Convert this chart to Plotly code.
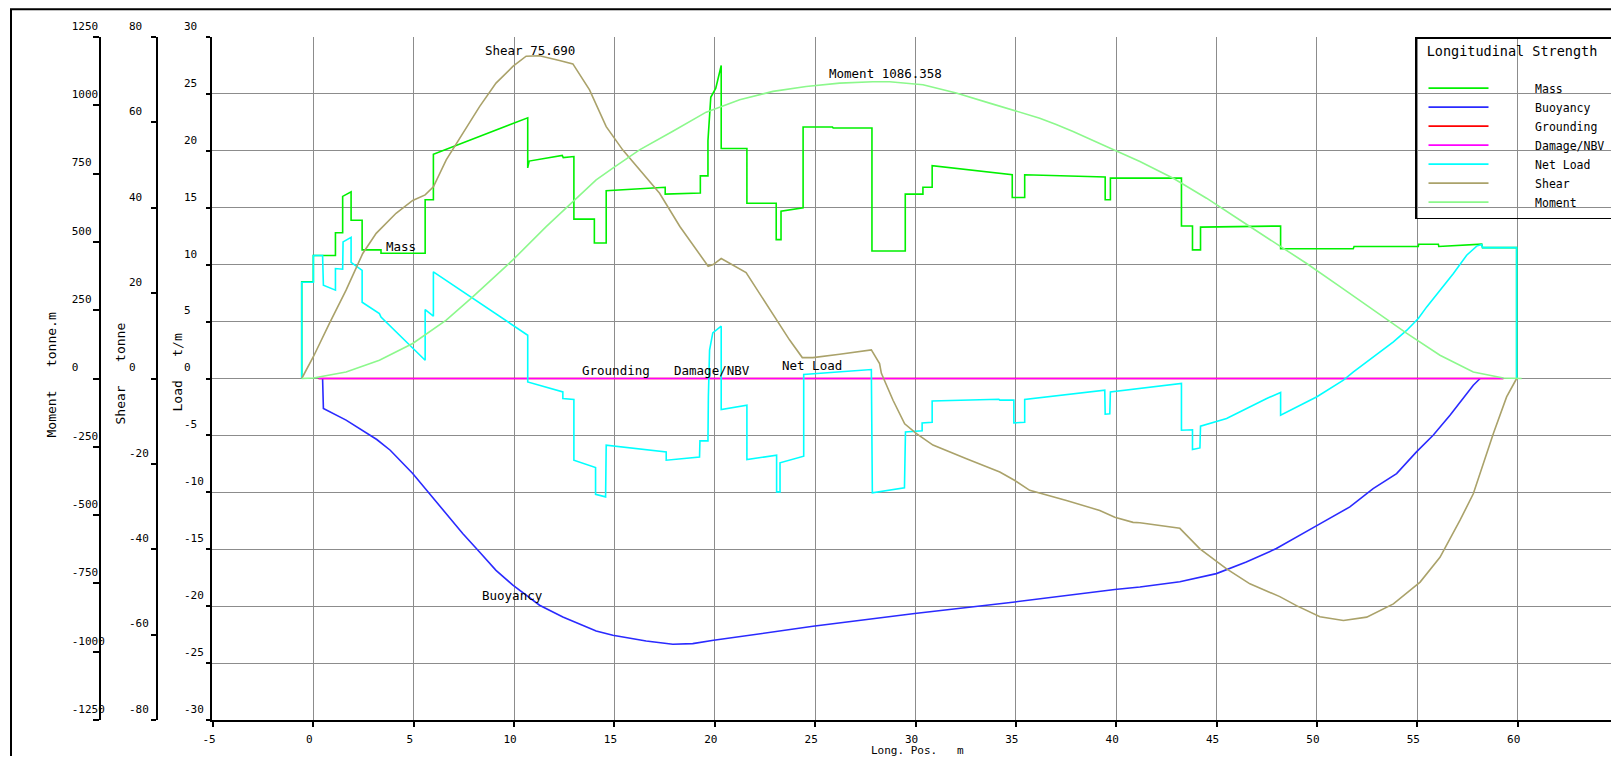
import plotly.graph_objects as go

# ---------------- data ----------------
mass_x = [-0.58, -0.58, 0.0, 0.0, 1.10, 1.10, 1.46, 1.46, 1.88, 1.88, 2.43, 2.43, 3.37, 3.37,
          5.57, 5.57, 5.98, 5.98, 10.68, 10.68, 10.75, 12.40, 12.45, 12.98, 12.98, 14.00, 14.00,
          14.59, 14.59, 17.53, 17.53, 19.28, 19.28, 19.66, 19.66, 19.80, 20.05, 20.32, 20.32,
          21.60, 21.60, 23.06, 23.06, 23.30, 23.30, 24.40, 24.40, 25.86, 25.90, 27.83, 27.83,
          29.49, 29.49, 30.37, 30.37, 30.83, 30.83, 34.82, 34.82, 35.44, 35.44, 36.50, 39.45,
          39.45, 39.71, 39.71, 43.25, 43.25, 43.80, 43.80, 44.20, 44.20, 48.19, 48.19, 51.81,
          51.85, 55.05, 55.07, 56.05, 56.07, 58.21, 58.25, 59.95, 59.95]
mass_y = [0.0, 8.5, 8.5, 10.8, 10.8, 12.8, 12.8, 16.0, 16.4, 13.9, 13.9, 11.3, 11.3, 11.0,
          11.0, 15.7, 15.7, 19.7, 22.9, 18.5, 19.1, 19.6, 19.4, 19.5, 14.0, 14.0, 11.9,
          11.9, 16.5, 16.8, 16.2, 16.3, 17.8, 17.8, 20.9, 24.7, 25.5, 27.5, 20.2,
          20.2, 15.4, 15.4, 12.2, 12.2, 14.7, 15.0, 22.1, 22.1, 22.0, 22.0, 11.2,
          11.2, 16.2, 16.2, 16.8, 16.8, 18.7, 17.9, 15.9, 15.9, 17.9, 17.85, 17.7,
          15.7, 15.7, 17.6, 17.6, 13.4, 13.4, 11.3, 11.3, 13.3, 13.4, 11.4, 11.4,
          11.6, 11.6, 11.8, 11.8, 11.6, 11.8, 11.5, 11.5, 0.0]

buoy_x = [0.46, 0.50, 1.63, 2.83, 3.16, 3.83, 4.95, 5.78, 6.62, 7.44, 8.28, 9.10, 9.94, 11.27,
          12.43, 14.09, 14.92, 16.58, 17.91, 18.90, 19.94, 21.24, 24.89, 29.96, 34.95, 39.93,
          41.18, 43.17, 44.99, 46.48, 47.98, 49.97, 51.64, 52.80, 53.97, 54.96, 55.79, 56.63,
          57.29, 57.79, 58.13]
buoy_y = [0.0, -2.64, -3.66, -4.98, -5.36, -6.30, -8.35, -10.10, -11.86, -13.62, -15.24, -16.85,
          -18.16, -19.92, -20.95, -22.18, -22.56, -23.06, -23.35, -23.29, -23.00, -22.68, -21.77,
          -20.65, -19.63, -18.54, -18.31, -17.85, -17.14, -16.12, -14.94, -12.95, -11.28, -9.67,
          -8.35, -6.45, -4.98, -3.22, -1.76, -0.59, 0.0]

ground_x = [0.26, 59.29]
ground_y = [0.0, 0.0]
damage_x = [0.26, 59.29]
damage_y = [0.0, 0.0]

net_x = [-0.58, -0.58, 0.0, 0.0, 0.46, 0.50, 1.10, 1.10, 1.46, 1.48, 1.88, 1.88, 2.43, 2.43,
         3.29, 3.37, 5.57, 5.57, 5.98, 5.98, 10.68, 10.68, 12.43, 12.43, 12.98, 12.98, 14.06,
         14.06, 14.56, 14.59, 17.58, 17.58, 19.24, 19.26, 19.66, 19.68, 19.74, 19.90, 20.32,
         20.32, 21.60, 21.60, 23.08, 23.08, 23.25, 23.25, 24.43, 24.43, 27.80, 27.85, 29.45,
         29.50, 30.33, 30.33, 30.83, 30.83, 34.15, 34.20, 34.90, 34.90, 35.44, 35.44, 39.43,
         39.45, 39.68, 39.71, 43.25, 43.25, 43.80, 43.80, 44.17, 44.20, 45.50, 47.50, 48.19,
         48.19, 50.00, 51.32, 51.82, 52.82, 53.81, 54.48, 55.05, 55.47, 56.13, 56.80, 57.46,
         57.96, 58.21, 58.25, 59.95, 59.95]
net_y = [0.0, 8.45, 8.45, 10.8, 10.8, 8.2, 7.76, 9.66, 9.6, 12.0, 12.4, 10.2, 9.5, 6.7,
         5.7, 5.4, 1.6, 6.06, 5.47, 9.37, 3.8, -0.3, -1.18, -1.76, -1.85, -7.18, -7.82,
         -10.17, -10.4, -5.86, -6.45, -7.18, -6.89, -5.48, -5.48, -1.6, 2.49, 4.0, 4.6,
         -2.73, -2.35, -7.12, -6.74, -9.96, -9.96, -7.41, -6.83, 0.35, 0.79, -10.05, -9.61,
         -4.69, -4.6, -3.9, -3.85, -1.97, -1.82, -1.9, -1.9, -3.9, -3.85, -1.85, -1.03,
         -3.14, -3.1, -1.18, -0.44, -4.54, -4.5, -6.24, -6.1, -4.19, -3.52, -1.76, -1.23,
         -3.22, -1.6, -0.15, 0.58, 1.9, 3.22, 4.24, 5.27, 6.29, 7.76, 9.23, 10.83,
         11.63, 11.77, 11.5, 11.5, 0.0]

shear_x = [-0.58, 0.0, 0.80, 1.63, 2.46, 3.13, 4.12, 4.95, 5.57, 5.98, 6.62, 7.44, 8.28, 9.10,
           9.94, 10.60, 11.27, 12.26, 12.93, 13.76, 14.59, 15.42, 16.25, 17.25, 18.26, 19.09,
           19.67, 19.92, 20.32, 21.56, 22.23, 23.06, 23.73, 24.36, 24.89, 26.22, 27.80, 28.21,
           28.30, 28.88, 29.46, 30.05, 30.87, 32.54, 34.20, 34.95, 35.69, 37.52, 39.18, 39.93,
           40.84, 41.18, 43.17, 44.17, 45.50, 46.66, 48.15, 48.98, 50.15, 51.32, 52.48, 53.81,
           55.14, 56.13, 57.13, 57.79, 58.79, 59.45, 59.95]
shear_y = [0.0, 5.1, 12.9, 20.7, 29.3, 34.0, 38.7, 41.7, 43.0, 44.9, 51.2, 57.5, 63.7, 69.2,
           73.1, 75.5, 75.6, 74.5, 73.7, 67.6, 59.0, 53.5, 49.0, 43.4, 35.6, 30.1,
           26.3, 26.7, 28.1, 24.8, 19.9, 13.7, 9.0, 4.9, 4.9, 5.7, 6.7, 3.5,
           1.2, -5.1, -10.6, -12.9, -15.6, -18.8, -21.9, -23.9, -26.2, -28.6, -30.9, -32.5,
           -33.7, -33.8, -35.1, -39.9, -44.6, -48.1, -51.1, -53.2, -55.8, -56.7, -55.9, -52.8,
           -47.7, -41.9, -33.2, -27.0, -12.9, -4.3, 0.0]

moment_x = [-0.58, 0.0, 1.63, 3.29, 4.95, 6.62, 7.94, 9.10, 9.94, 11.60, 12.93, 14.09, 14.92,
            16.25, 17.91, 19.57, 21.24, 22.90, 24.55, 26.22, 27.88, 28.71, 30.37, 32.03, 33.69,
            35.35, 36.19, 37.01, 37.85, 39.51, 41.18, 42.84, 44.50, 46.16, 47.82, 49.49, 51.15,
            52.82, 54.48, 56.13, 57.79, 59.29, 60.20]
moment_y = [0, 2, 24, 67, 128, 214, 299, 379, 434, 556, 647, 727, 770,
            837, 905, 975, 1020, 1051, 1069, 1081, 1086, 1086, 1075, 1045, 1008,
            971, 953, 930, 904, 849, 794, 733, 660, 580, 501, 421, 336,
            250, 165, 85, 24, 2, 0]

load_ticks = list(range(-30, 31, 5))
shear_ticks = list(range(-80, 81, 20))
moment_ticks = list(range(-1250, 1251, 250))
x_ticks = list(range(-5, 66, 5))

series_names = ["Mass", "Buoyancy", "Grounding", "Damage/NBV", "Net Load", "Shear", "Moment"]
series_colors = ["#00f000", "#2a2aff", "#ff0000", "#ff00ff", "#00ffff", "#aaa26a", "#8cf88c"]

labels = [("Shear 75.690", 8.45, 28.85), ("Moment 1086.358", 25.6, 26.8), ("Mass", 3.5, 11.6),
          ("Grounding", 13.3, 0.7), ("Damage/NBV", 17.85, 0.7), ("Net Load", 23.25, 1.1),
          ("Buoyancy", 8.28, -19.1)]

# ---------------- layout geometry ----------------
# reference pixel coords; the page body has an 8px margin
OFF = 8
W, H = 1619 - OFF, 764 - 2 * OFF
ML, MR, MT = 11 - OFF, 1, 37 - OFF
MB = H - (720 - OFF)
PW = W - ML - MR
PH = H - MT - MB


def fx(px):
    return (px - OFF - ML) / PW


def fy(py):
    return (H - MB - (py - OFF)) / PH


FONT = "DejaVu Sans Mono"
NB = "\u00a0"

fig = go.Figure()
xs = [mass_x, buoy_x, ground_x, damage_x, net_x, shear_x, moment_x]
ys = [mass_y, buoy_y, ground_y, damage_y, net_y, shear_y, moment_y]
axes = ["y", "y", "y", "y", "y", "y2", "y3"]
for name, col, x, y, ax in zip(series_names, series_colors, xs, ys, axes):
    fig.add_trace(go.Scatter(x=x, y=y, mode="lines", name=NB * 6 + name.ljust(11, NB), yaxis=ax,
                             line=dict(color=col, width=1.6), hoverinfo="skip"))

axis_common = dict(showline=True, linecolor="black", linewidth=2, ticks="outside",
                   tickcolor="black", tickwidth=1.5, zeroline=False, automargin=False,
                   tickfont=dict(family=FONT, size=11, color="black"))

fig.update_layout(
    template="none",
    width=W, height=H,
    margin=dict(l=ML, r=MR, t=MT, b=MB, pad=0, autoexpand=False),
    paper_bgcolor="white", plot_bgcolor="white",
    font=dict(family=FONT, size=11, color="black"),
    xaxis=dict(domain=[fx(212), 1], range=[-5.05, 65], tickvals=x_ticks,
               ticktext=[str(v) for v in x_ticks], ticklen=5,
               ticklabelshift=-4, ticklabelstandoff=3, showgrid=True,
               gridcolor="#8c8c8c", gridwidth=1.2, **axis_common),
    yaxis=dict(range=[-30, 30], tickvals=load_ticks,
               ticktext=[str(v).ljust(3, NB) for v in load_ticks], ticklen=4,
               ticklabelshift=-11, ticklabelstandoff=0, showgrid=True,
               gridcolor="#8c8c8c", gridwidth=1.2, **axis_common),
    yaxis2=dict(range=[-80, 80], tickvals=shear_ticks,
                ticktext=[str(v).ljust(3, NB) for v in shear_ticks], ticklen=5,
                overlaying="y", anchor="free", position=fx(157), side="left",
                ticklabelshift=-11, ticklabelstandoff=0, showgrid=False, **axis_common),
    yaxis3=dict(range=[-1250, 1250], tickvals=moment_ticks,
                ticktext=[str(v).ljust(5, NB) for v in moment_ticks], ticklen=6,
                overlaying="y", anchor="free", position=fx(100), side="left",
                ticklabelshift=-11, ticklabelstandoff=-14, showgrid=False, **axis_common),
    legend=dict(x=1, xanchor="right", y=1, yanchor="top",
                bgcolor="rgba(0,0,0,0)", bordercolor="black", borderwidth=1.5,
                title=dict(text=NB + "Longitudinal Strength<br>" + NB, font=dict(family=FONT, size=13.5)),
                font=dict(family=FONT, size=11.5), itemwidth=60, indentation=7,
                traceorder="normal"),
    showlegend=True,
)

for txt, x, y in labels:
    fig.add_annotation(x=x, y=y, xref="x", yref="y", text=txt, showarrow=False,
                       xanchor="left", yanchor="middle", font=dict(family=FONT, size=12.5))

titles = [("Moment" + NB * 3 + "tonne.m", 51, 375.5), ("Shear" + NB * 3 + "tonne", 120, 373.5),
          ("Load" + NB * 3 + "t/m", 177, 372.5)]
for txt, px, py in titles:
    fig.add_annotation(x=fx(px), y=fy(py), xref="paper", yref="paper", text=txt,
                       showarrow=False, textangle=-90, xanchor="center", yanchor="middle",
                       font=dict(family=FONT, size=13))
fig.add_annotation(x=fx(917), y=fy(750), xref="paper", yref="paper",
                   text="Long." + NB + "Pos." + NB * 3 + "m",
                   showarrow=False, xanchor="center", yanchor="middle", font=dict(family=FONT, size=11))

fig.add_shape(type="rect", xref="paper", yref="paper", x0=fx(11), y0=fy(9.3), x1=1.05, y1=-0.2,
              line=dict(color="black", width=2), fillcolor="rgba(0,0,0,0)", layer="above")

fig.write_html("out.html")
